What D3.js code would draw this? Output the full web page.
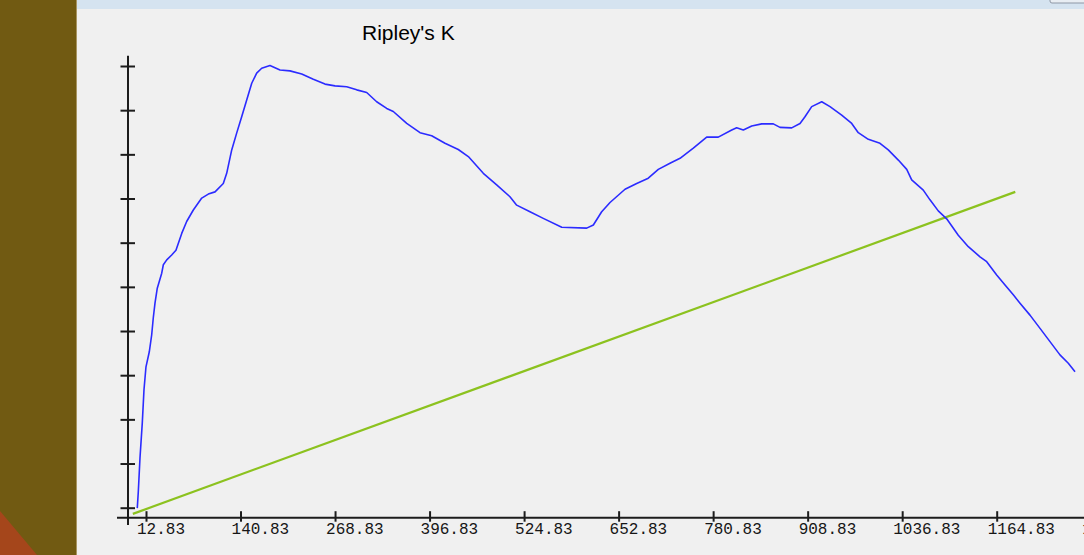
<!DOCTYPE html>
<html>
<head>
<meta charset="utf-8">
<script src="https://cdn.jsdelivr.net/npm/d3@7"></script>
<style>
html,body{margin:0;padding:0;background:#f0f0f0;overflow:hidden;}
svg{display:block;}
</style>
</head>
<body>
<svg id="chart" width="1084" height="555"></svg>
<script>
// ---- data (distance, K value in axis-tick units) ----
const distances = [1.0,2.4,4.7,7.8,10.1,12.8,17.3,20.5,22.7,25.0,28.1,30.8,34.1,36.3,40.9,47.6,53.4,61.2,67.9,76.9,88.3,97.2,106.3,117.5,122.1,128.9,135.6,142.4,149.2,156.0,162.7,169.5,180.7,194.3,207.8,223.7,239.4,255.2,268.8,284.6,298.2,311.7,325.2,338.8,347.7,365.9,383.9,399.7,417.7,435.7,449.3,469.6,487.7,505.7,514.8,532.8,550.8,575.8,609.6,618.6,629.9,641.2,661.5,677.3,693.0,706.6,722.4,736.0,754.0,772.1,787.8,806.0,812.7,821.7,833.1,846.6,862.3,871.4,887.2,898.5,905.2,914.3,927.9,939.1,954.9,968.5,977.4,991.0,1006.8,1018.0,1031.6,1043.0,1049.7,1065.4,1074.5,1085.7,1097.1,1112.8,1126.4,1142.2,1151.3,1164.8,1176.1,1187.3,1196.4,1209.9,1223.5,1237.0,1250.5,1261.8,1270.9];
const kObserved = [-0.01,0.36,1.13,1.92,2.67,3.19,3.53,3.91,4.30,4.63,4.97,5.12,5.31,5.50,5.61,5.72,5.83,6.21,6.48,6.74,7.01,7.10,7.15,7.34,7.57,8.10,8.48,8.85,9.23,9.61,9.84,9.95,10.01,9.91,9.89,9.82,9.70,9.59,9.55,9.53,9.46,9.40,9.19,9.04,8.97,8.70,8.49,8.42,8.25,8.11,7.95,7.57,7.31,7.04,6.85,6.70,6.55,6.35,6.33,6.40,6.70,6.91,7.21,7.34,7.46,7.66,7.80,7.91,8.14,8.39,8.39,8.55,8.60,8.55,8.64,8.69,8.69,8.61,8.60,8.70,8.85,9.08,9.19,9.08,8.89,8.70,8.49,8.34,8.25,8.10,7.87,7.66,7.42,7.19,6.97,6.72,6.54,6.17,5.91,5.68,5.57,5.27,5.04,4.82,4.63,4.36,4.06,3.76,3.46,3.27,3.08];
const expectedDist = [-5, 1190];
const expectedK = [-0.14, 7.15];
const xTickValues = [12.83,140.83,268.83,396.83,524.83,652.83,780.83,908.83,1036.83,1164.83,1292.83];
const yTickValues = [0,1,2,3,4,5,6,7,8,9,10];
const chartTitle = "Ripley's K";

const svg = d3.select("#chart");

// ---- surrounding window decoration ----
svg.append("rect").attr("x",0).attr("y",0).attr("width",1084).attr("height",555).attr("fill","#f0f0f0");
svg.append("rect").attr("x",0).attr("y",0).attr("width",76).attr("height",555).attr("fill","#715a12");
svg.append("rect").attr("x",76).attr("y",0).attr("width",1).attr("height",555).attr("fill","#a89562");
svg.append("path").attr("d","M0,511L37,555L0,555Z").attr("fill","#a5461b");
svg.append("rect").attr("x",77).attr("y",0).attr("width",1007).attr("height",9).attr("fill","#d5e3f0");
svg.append("rect").attr("x",1050).attr("y",-6).attr("width",40).attr("height",9).attr("rx",2)
  .attr("fill","#e8edf3").attr("stroke","#8e97a5").attr("stroke-width",1);

// ---- scales ----
const x = d3.scaleLinear().domain([0, 1292.83]).range([136.53, 136.53 + 1292.83*0.73845]);
const y = d3.scaleLinear().domain([0, 10]).range([507.7, 66]);

// ---- title ----
svg.append("text").attr("x",362).attr("y",40)
  .attr("font-family","'Liberation Sans', Arial, sans-serif").attr("font-size",21)
  .attr("fill","#000").text(chartTitle);

// ---- series ----
const line = d3.line().x(d=>x(d[0])).y(d=>y(d[1]));
svg.append("path").datum(expectedDist.map((d,i)=>[d, expectedK[i]]))
  .attr("d", line).attr("fill","none").attr("stroke","#8cc21f").attr("stroke-width",2.2);
svg.append("path").datum(distances.map((d,i)=>[d, kObserved[i]]))
  .attr("d", line).attr("fill","none").attr("stroke","#2b2bff").attr("stroke-width",1.6)
  .attr("stroke-linejoin","round");

// ---- axes ----
const axisColor = "#1c1c1c";
const xAxisY = 517.7;
const yAxisX = 128;

const gx = svg.append("g").attr("transform",`translate(0,${xAxisY})`)
  .call(d3.axisBottom(x).tickValues(xTickValues).tickFormat(d=>d3.format(".2f")(d)).tickSizeOuter(0));
gx.select(".domain").remove();
gx.selectAll(".tick line").attr("y1",-6.5).attr("y2",4).attr("stroke",axisColor).attr("stroke-width",2);
gx.selectAll(".tick text").attr("x",-9.5).attr("y",16.3).attr("dy",0)
  .attr("text-anchor","start")
  .attr("font-family","'Liberation Mono', 'DejaVu Sans Mono', monospace")
  .attr("font-size",16).attr("fill","#161616");

const gy = svg.append("g").attr("transform",`translate(${yAxisX},0)`)
  .call(d3.axisLeft(y).tickValues(yTickValues).tickFormat("").tickSizeOuter(0));
gy.select(".domain").remove();
gy.selectAll(".tick line").attr("x1",-7.5).attr("x2",7).attr("stroke",axisColor).attr("stroke-width",2);

// axis lines
svg.append("line").attr("x1",117).attr("x2",1084).attr("y1",xAxisY).attr("y2",xAxisY)
  .attr("stroke",axisColor).attr("stroke-width",2);
svg.append("line").attr("x1",yAxisX).attr("x2",yAxisX).attr("y1",y(10.23)).attr("y2",y(-0.39))
  .attr("stroke",axisColor).attr("stroke-width",2);
</script>
</body>
</html>
